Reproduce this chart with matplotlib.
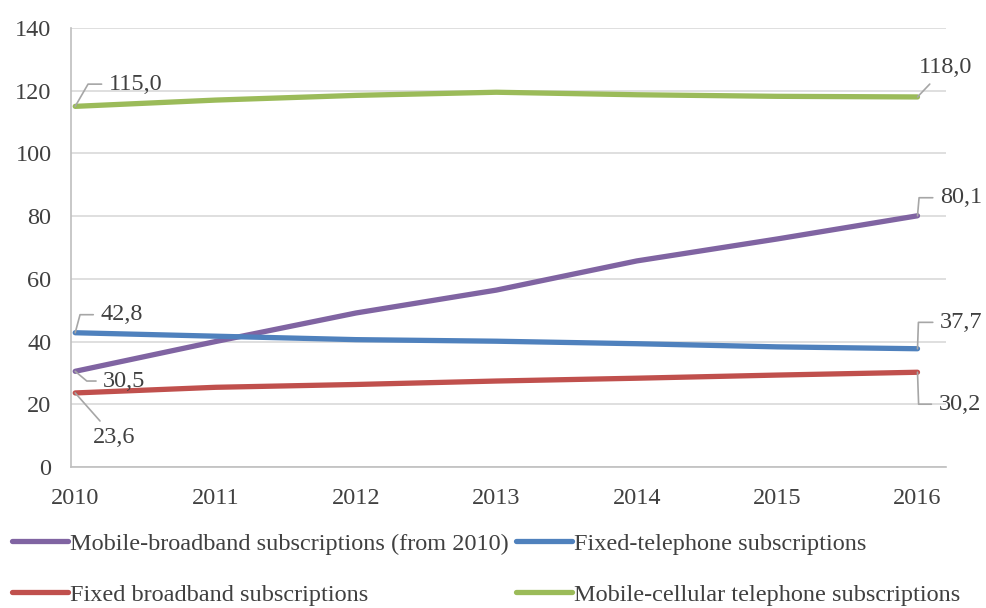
import matplotlib.pyplot as plt

years = [2010, 2011, 2012, 2013, 2014, 2015, 2016]
mobile_broadband = [30.5, 40.0, 49.1, 56.4, 65.7, 72.7, 80.1]
fixed_telephone = [42.8, 41.7, 40.6, 40.1, 39.3, 38.3, 37.7]
fixed_broadband = [23.6, 25.4, 26.3, 27.4, 28.3, 29.3, 30.2]
mobile_cellular = [115.0, 117.0, 118.5, 119.5, 118.7, 118.2, 118.0]

names = ["Mobile-broadband subscriptions (from 2010)", "Fixed-telephone subscriptions",
         "Fixed broadband subscriptions", "Mobile-cellular telephone subscriptions"]
colors = ["#8064a2", "#4f81bd", "#c0504d", "#9bbb59"]

plt.rcParams['font.family'] = ['Liberation Serif', 'DejaVu Serif']
txt = "#404040"
fs = 17.5

fig = plt.figure(figsize=(9.86, 6.08), dpi=100)
ax = fig.add_axes([0.072, 0.232, 0.887, 0.722])

series = [mobile_broadband, fixed_telephone, fixed_broadband, mobile_cellular]
lines = []
for vals, name, c in zip(series, names, colors):
    ln, = ax.plot(years, vals, color=c, lw=3.8, solid_capstyle='round',
                  solid_joinstyle='round', label=name, zorder=3)
    lines.append(ln)

ax.set_xlim(2009.97, 2016.2)
ax.set_ylim(0, 140)
ax.set_yticks(range(0, 141, 20))
ax.set_xticks(years)
ax.grid(axis='y', color='#d9d9d9', lw=1.2)
ax.set_axisbelow(True)
for s in ['top', 'right']:
    ax.spines[s].set_visible(False)
for s in ['left', 'bottom']:
    ax.spines[s].set_color('#bfbfbf')
    ax.spines[s].set_linewidth(1.2)
ax.tick_params(axis='x', length=0, pad=15, labelsize=fs, labelcolor=txt)
ax.tick_params(axis='y', length=0, pad=14, labelsize=fs, labelcolor=txt)


def label(x, y, dx, dy, angle=None, ha='left'):
    # data label with a grey leader line; angle=None gives a straight leader
    s = f"{y:.1f}".replace('.', ',')
    if angle is None:
        conn = 'arc3,rad=0'
    else:
        conn = f'angle,angleA=0,angleB={angle},rad=0'
    ax.annotate(s, xy=(x, y), xytext=(dx, dy), textcoords='offset points',
                ha=ha, va='center', fontsize=fs, color=txt,
                arrowprops=dict(arrowstyle='-', color='#a6a6a6', lw=1.2,
                                shrinkA=3, shrinkB=0, connectionstyle=conn))


label(years[0], mobile_cellular[0], 24, 16, angle=60)
label(years[-1], mobile_cellular[-1], 20, 21, ha='center')
label(years[-1], mobile_broadband[-1], 16, 13, angle=85)
label(years[0], fixed_telephone[0], 18, 13, angle=75)
label(years[0], mobile_broadband[0], 20, -7, angle=-40)
label(years[0], fixed_broadband[0], 13, -32)
label(years[-1], fixed_telephone[-1], 16, 19, angle=88)
label(years[-1], fixed_broadband[-1], 15, -23, angle=-88)

order = [0, 2, 1, 3]
fig.legend([lines[i] for i in order], [names[i] for i in order],
           loc='upper left', bbox_to_anchor=(0.002, 0.14), ncol=2, frameon=False,
           fontsize=fs, labelcolor=txt, handlelength=2.3, handletextpad=0.1,
           columnspacing=0.3, labelspacing=1.2, borderaxespad=0)

fig.savefig("out.png", dpi=100)
